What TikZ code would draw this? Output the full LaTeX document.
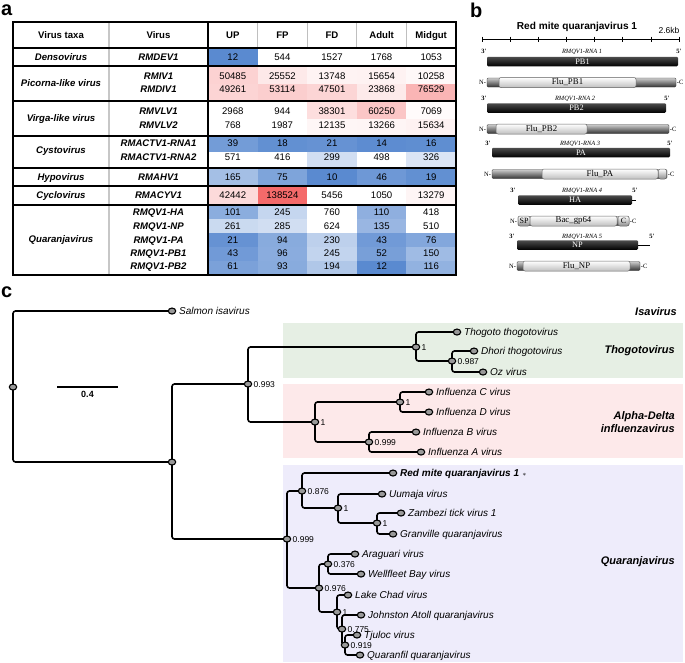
\documentclass[tikz,border=0pt]{standalone}
\usepackage{fontspec}
\setmainfont{Liberation Sans}
\newfontfamily\genefont{Liberation Serif}
\usetikzlibrary{shapes.geometric}

\definecolor{hb}{RGB}{90,138,208}
\definecolor{hr}{RGB}{244,106,106}
\definecolor{thogobg}{RGB}{230,239,228}
\definecolor{flubg}{RGB}{253,233,234}
\definecolor{quarbg}{RGB}{238,236,251}

\tikzset{
  panel/.style={font=\fontsize{20}{22}\selectfont\bfseries, inner sep=0},
  hdr/.style={font=\fontsize{9.6}{11}\selectfont\bfseries, text height=7pt, text depth=2pt, inner sep=0},
  taxon/.style={font=\fontsize{9.6}{11}\selectfont\bfseries\itshape, text height=7pt, text depth=2pt, inner sep=0},
  num/.style={font=\fontsize{9.6}{11}\selectfont, text height=7pt, text depth=2pt, inner sep=0},
  tabline/.style={line width=1.2pt},
  rnabar/.style={rounded corners=1.2pt, minimum height=9.5pt, inner sep=0, text=white,
    font=\genefont\fontsize{8.3}{9}\selectfont, top color=black!70, middle color=black, bottom color=black},
  protbar/.style={rounded corners=1.2pt, minimum height=9pt, inner sep=0, draw=black!80, line width=0.4pt,
    top color=black!20, middle color=black!45, bottom color=black!80},
  dombox/.style={rounded corners=2pt, minimum height=10pt, inner sep=0, draw=black!60, line width=0.5pt,
    top color=white, middle color=white, bottom color=black!25, font=\genefont\fontsize{8.8}{9}\selectfont},
  rnalab/.style={font=\genefont\itshape\fontsize{6.4}{7}\selectfont, inner sep=0},
  primelab/.style={font=\genefont\bfseries\fontsize{6.5}{7}\selectfont, inner sep=0},
  endlab/.style={font=\genefont\fontsize{6.5}{7}\selectfont, inner sep=0.5pt},
  branch/.style={line width=1.6pt, rounded corners=2.5pt},
  dot/.style={ellipse, draw, line width=1.1pt, fill=black!40, minimum width=7.5pt, minimum height=6pt, inner sep=0},
  tiplab/.style={font=\fontsize{10}{12}\selectfont\itshape, anchor=west, inner sep=0, xshift=7pt, text height=7pt, text depth=0pt},
  supp/.style={font=\fontsize{8.5}{10}\selectfont, anchor=west, inner sep=0, xshift=5.5pt, text height=6pt, text depth=0pt},
  grp/.style={font=\fontsize{11}{13.5}\selectfont\bfseries\itshape, anchor=east, inner sep=0, align=right}
}

%% one row of the heat map: name, top, bottom, text y, cells
\newcommand\heatrow[5]{%
  \foreach \val/\col [count=\i] in {#5} {%
    \fill[fill=\col!white] ({208+49.6*(\i-1)},#2) rectangle ({208+49.6*\i},#3);
    \node[num] (#1-\i) at ({208+49.6*(\i-0.5)},#4) {\val};
  }}

\begin{document}
\begin{tikzpicture}[x=1pt, y=-1pt]
        \useasboundingbox (0,0) rectangle (685,662);
        %% Panel labels
        \node[panel, anchor=base west] (lab-a) at (1,15) {a};
        \node[panel, anchor=base west] (lab-b) at (470,17) {b};
        \node[panel, anchor=base west] (lab-c) at (1,297) {c};

        %% a: heat map cells
        \heatrow{dev}{48}{66}{58}{12/hb!100, 544/hb!0, 1527/hb!0, 1768/hb!0, 1053/hb!0}
        \heatrow{iv}{66}{83.5}{77}{50485/hr!30, 25552/hr!15, 13748/hr!8, 15654/hr!9, 10258/hr!5}
        \heatrow{div}{83.5}{101}{90}{49261/hr!29, 53114/hr!33, 47501/hr!28, 23868/hr!14, 76529/hr!50}
        \heatrow{vlv1}{101}{118.5}{112}{2968/hb!0, 944/hb!0, 38301/hr!22, 60250/hr!38, 7069/hr!3}
        \heatrow{vlv2}{118.5}{136}{126}{768/hb!0, 1987/hb!0, 12135/hr!6, 13266/hr!7, 15634/hr!9}
        \heatrow{ctv1}{136}{152}{144}{39/hb!85, 18/hb!95, 21/hb!93, 14/hb!98, 16/hb!97}
        \heatrow{ctv2}{152}{168}{158}{571/hb!0, 416/hb!0, 299/hb!28, 498/hb!0, 326/hb!22}
        \heatrow{ahv}{168}{186}{178}{165/hb!55, 75/hb!78, 10/hb!100, 46/hb!88, 19/hb!95}
        \heatrow{acyv}{186}{205}{196}{42442/hr!25, 138524/hr!100, 5456/hb!0, 1050/hb!0, 13279/hr!7}
        \heatrow{ha}{205}{219}{213}{101/hb!70, 245/hb!35, 760/hb!0, 110/hb!68, 418/hb!0}
        \heatrow{np}{219}{233}{227}{261/hb!32, 285/hb!28, 624/hb!0, 135/hb!62, 510/hb!0}
        \heatrow{pa}{233}{247}{240.5}{21/hb!93, 94/hb!72, 230/hb!40, 43/hb!86, 76/hb!75}
        \heatrow{pb1}{247}{261}{253.5}{43/hb!86, 96/hb!71, 245/hb!37, 52/hb!82, 150/hb!58}
        \heatrow{pb2}{261}{275}{266.5}{61/hb!80, 93/hb!72, 194/hb!48, 12/hb!100, 116/hb!66}

        %% a: header
        \node[hdr] (h-taxa) at (61,35.5) {Virus taxa};
        \node[hdr] (h-virus) at (158.5,35.5) {Virus};
        \foreach \nm [count=\i] in {UP,FP,FD,Adult,Midgut}
            \node[hdr] (h-\i) at ({208+49.6*(\i-0.5)},35.5) {\nm};

        %% a: taxa and viruses
        \foreach \nm/\y [count=\i] in {Densovirus/58, Picorna-like virus/84, Virga-like virus/119,
            Cystovirus/151, Hypovirus/178, Cyclovirus/196, Quaranjavirus/240}
            \node[taxon] (t\i) at (61,\y) {\nm};
        \foreach \nm/\y [count=\i] in {RMDEV1/58, RMIV1/77, RMDIV1/90, RMVLV1/112, RMVLV2/126,
            RMACTV1-RNA1/144, RMACTV1-RNA2/158, RMAHV1/178, RMACYV1/196, RMQV1-HA/213,
            RMQV1-NP/227, RMQV1-PA/240.5, RMQV1-PB1/253.5, RMQV1-PB2/266.5}
            \node[taxon] (v\i) at (158.5,\y) {\nm};

        %% a: rules
        \foreach \x in {257.6,307.2,356.8,406.4}
            \draw[black!25, line width=1pt] (\x,22) -- (\x,48);
        \draw[black!22, line width=2pt] (109,22) -- (109,275);
        \foreach \y in {48,66,101,136,168,186,205}
            \draw[tabline] (13,\y) -- (456,\y);
        \draw[tabline] (208,22) -- (208,275);
        \draw[line width=1.5pt] (13,22) rectangle (456,275);

        %% b: title and scale
        \node[hdr, font=\fontsize{10.1}{12}\selectfont\bfseries] (b-title) at (577,27) {Red mite quaranjavirus 1};
        \coordinate (sc-l) at (482,39);
        \coordinate (sc-r) at (679,39);
        \draw[line width=0.6pt] (sc-l) -- (sc-r);
        \foreach \i in {0,...,7}
            \draw[line width=0.6pt] ({482+28.14*\i},36.5) -- ++(0,5);
        \node[num, font=\fontsize{8.5}{10}\selectfont] (b-kb) at (669,31) {2.6kb};

        %% b: segment 1
        \node[rnalab] (r1) at (582,52) {RMQV1-RNA 1};
        \node[primelab] (r1-3) at (484,51) {3'};
        \node[primelab] (r1-5) at (679,51) {5'};
        \node[rnabar, minimum width=191] (pb1) at (582.5,61.5) {PB1};
        \node[protbar, minimum width=189] (p1) at (581.5,82.5) {};
        \node[dombox, minimum width=137] (p1-d) at (567.5,82.5) {Flu\_PB1};
        \node[endlab, anchor=east] (p1-n) at (p1.west) {N-};
        \node[endlab, anchor=west] (p1-c) at (p1.east) {-C};

        %% b: segment 2
        \node[rnalab] (r2) at (575,99) {RMQV1-RNA 2};
        \node[primelab] (r2-3) at (484,98) {3'};
        \node[primelab] (r2-5) at (667,98) {5'};
        \node[rnabar, minimum width=179] (pb2) at (576.5,108) {PB2};
        \node[protbar, minimum width=182] (p2) at (578,129) {};
        \node[dombox, minimum width=91] (p2-d) at (541.5,129) {Flu\_PB2};
        \node[endlab, anchor=east] (p2-n) at (p2.west) {N-};
        \node[endlab, anchor=west] (p2-c) at (p2.east) {-C};

        %% b: segment 3
        \node[rnalab] (r3) at (580,144) {RMQV1-RNA 3};
        \node[primelab] (r3-3) at (488,143) {3'};
        \node[primelab] (r3-5) at (670,143) {5'};
        \node[rnabar, minimum width=178] (pa) at (581,152.5) {PA};
        \node[protbar, minimum width=175] (p3) at (579.5,174) {};
        \node[dombox, minimum width=116] (p3-d) at (600,174) {Flu\_PA};
        \node[dombox, minimum width=8, bottom color=black!45] (p3-e) at (662.5,174) {};
        \node[endlab, anchor=east] (p3-n) at (p3.west) {N-};
        \node[endlab, anchor=west] (p3-c) at (p3.east) {-C};

        %% b: segment 4
        \node[rnalab] (r4) at (582,191) {RMQV1-RNA 4};
        \node[primelab] (r4-3) at (513,190) {3'};
        \node[primelab] (r4-5) at (635,190) {5'};
        \coordinate (ha-end) at (636,200);
        \node[rnabar, minimum width=114] (ha) at (575,200) {HA};
        \draw[line width=0.5pt] (ha.east) -- (ha-end);
        \node[protbar, minimum width=111] (p4) at (573.5,221) {};
        \node[dombox, minimum width=12, bottom color=black!45, font=\genefont\fontsize{8}{9}\selectfont] (p4-sp) at (524,221) {SP};
        \node[dombox, minimum width=87] (p4-d) at (573.5,221) {Bac\_gp64};
        \node[dombox, minimum width=11, bottom color=black!45, font=\genefont\fontsize{8}{9}\selectfont] (p4-e) at (623.5,221) {C};
        \node[endlab, anchor=east] (p4-n) at (p4.west) {N-};
        \node[endlab, anchor=west] (p4-c) at (p4.east) {-C};

        %% b: segment 5
        \node[rnalab] (r5) at (582,237) {RMQV1-RNA 5};
        \node[primelab] (r5-3) at (512,236) {3'};
        \node[primelab] (r5-5) at (652,236) {5'};
        \coordinate (np-end) at (650,245);
        \node[rnabar, minimum width=121] (np) at (577.5,245) {NP};
        \draw[line width=0.5pt] (np.east) -- (np-end);
        \node[protbar, minimum width=123] (p5) at (578.5,266) {};
        \node[dombox, minimum width=107] (p5-d) at (576.5,266) {Flu\_NP};
        \node[endlab, anchor=east] (p5-n) at (p5.west) {N-};
        \node[endlab, anchor=west] (p5-c) at (p5.east) {-C};

        %% c: clade backgrounds
        \fill[thogobg] (283,323) rectangle (683,378);
        \fill[flubg] (283,384) rectangle (683,458);
        \fill[quarbg] (283,465) rectangle (683,662);

        %% c: tree nodes
        \coordinate (root) at (13,387);
        \coordinate (salmon) at (172,311);
        \coordinate (n2) at (172,462);
        \coordinate (n3) at (248,384);
        \coordinate (thog) at (416,347);
        \coordinate (thogoto) at (457,332);
        \coordinate (n5) at (452,361);
        \coordinate (dhori) at (474,351);
        \coordinate (oz) at (483,372);
        \coordinate (flu) at (315,422);
        \coordinate (ncd) at (400,402);
        \coordinate (infc) at (429,392);
        \coordinate (infd) at (429,412);
        \coordinate (nab) at (369,442);
        \coordinate (infb) at (416,432);
        \coordinate (infa) at (421,452);
        \coordinate (quar) at (287,539);
        \coordinate (q1) at (302,491);
        \coordinate (redmite) at (393,473);
        \coordinate (q2) at (338,508);
        \coordinate (uumaja) at (382,494);
        \coordinate (q3) at (377,523);
        \coordinate (zambezi) at (401,513);
        \coordinate (granville) at (393,534);
        \coordinate (q4) at (319,588);
        \coordinate (q5) at (328,564);
        \coordinate (araguari) at (355,554);
        \coordinate (wellfleet) at (361,574);
        \coordinate (q6) at (337,612);
        \coordinate (lakechad) at (348,595);
        \coordinate (q7) at (342,629);
        \coordinate (johnston) at (361,615);
        \coordinate (q8) at (345,645);
        \coordinate (tjuloc) at (357,635);
        \coordinate (quaranfil) at (360,655);

        %% c: branches
        \foreach \p/\c in {root/salmon, root/n2, n2/n3, n2/quar, n3/thog, n3/flu,
            thog/thogoto, thog/n5, n5/dhori, n5/oz, flu/ncd, flu/nab, ncd/infc, ncd/infd,
            nab/infb, nab/infa, quar/q1, quar/q4, q1/redmite, q1/q2, q2/uumaja, q2/q3,
            q3/zambezi, q3/granville, q4/q5, q4/q6, q5/araguari, q5/wellfleet,
            q6/lakechad, q6/q7, q7/johnston, q7/q8, q8/tjuloc, q8/quaranfil}
            \draw[branch] (\p) |- (\c);
        \foreach \n in {root, salmon, n2, n3, thog, thogoto, n5, dhori, oz, flu, ncd, infc, infd,
            nab, infb, infa, quar, q1, redmite, q2, uumaja, q3, zambezi, granville, q4, q5,
            araguari, wellfleet, q6, lakechad, q7, johnston, q8, tjuloc, quaranfil}
            \node[dot] (\n-dot) at (\n) {};

        %% c: support values
        \foreach \n/\s in {n3/0.993, thog/1, n5/0.987, flu/1, ncd/1, nab/0.999, quar/0.999,
            q1/0.876, q2/1, q3/1, q4/0.976, q5/0.376, q6/1, q7/0.775, q8/0.919}
            \node[supp] (\n-s) at (\n) {\s};

        %% c: tip labels
        \node[tiplab] (l-salmon) at (salmon) {Salmon isavirus};
        \node[tiplab] (l-thogoto) at (thogoto) {Thogoto thogotovirus};
        \node[tiplab] (l-dhori) at (dhori) {Dhori thogotovirus};
        \node[tiplab] (l-oz) at (oz) {Oz virus};
        \node[tiplab] (l-infc) at (infc) {Influenza C virus};
        \node[tiplab] (l-infd) at (infd) {Influenza D virus};
        \node[tiplab] (l-infb) at (infb) {Influenza B virus};
        \node[tiplab] (l-infa) at (infa) {Influenza A virus};
        \node[tiplab, font=\fontsize{10}{12}\selectfont\bfseries\itshape] (l-redmite) at (redmite) {Red mite quaranjavirus 1\,\,{\normalfont$\scriptstyle\ast$}};
        \node[tiplab] (l-uumaja) at (uumaja) {Uumaja virus};
        \node[tiplab] (l-zambezi) at (zambezi) {Zambezi tick virus 1};
        \node[tiplab] (l-granville) at (granville) {Granville quaranjavirus};
        \node[tiplab] (l-araguari) at (araguari) {Araguari virus};
        \node[tiplab] (l-wellfleet) at (wellfleet) {Wellfleet Bay virus};
        \node[tiplab] (l-lakechad) at (lakechad) {Lake Chad virus};
        \node[tiplab] (l-johnston) at (johnston) {Johnston Atoll quaranjavirus};
        \node[tiplab] (l-tjuloc) at (tjuloc) {Tjuloc virus};
        \node[tiplab] (l-quaranfil) at (quaranfil) {Quaranfil quaranjavirus};

        %% c: clade names
        \node[grp] (g-isa) at (677,312) {Isavirus};
        \node[grp] (g-thogo) at (675,351) {Thogotovirus};
        \node[grp] (g-flu) at (675,422) {Alpha-Delta\\influenzavirus};
        \node[grp] (g-quar) at (675,562) {Quaranjavirus};

        %% c: scale bar
        \coordinate (sb-l) at (57,387);
        \coordinate (sb-r) at (118,387);
        \draw[line width=1.5pt] (sb-l) -- (sb-r) node[midway, below=3pt, inner sep=0, font=\fontsize{9}{10}\selectfont\bfseries] (sb-lab) {0.4};
    \end{tikzpicture}
\end{document}
